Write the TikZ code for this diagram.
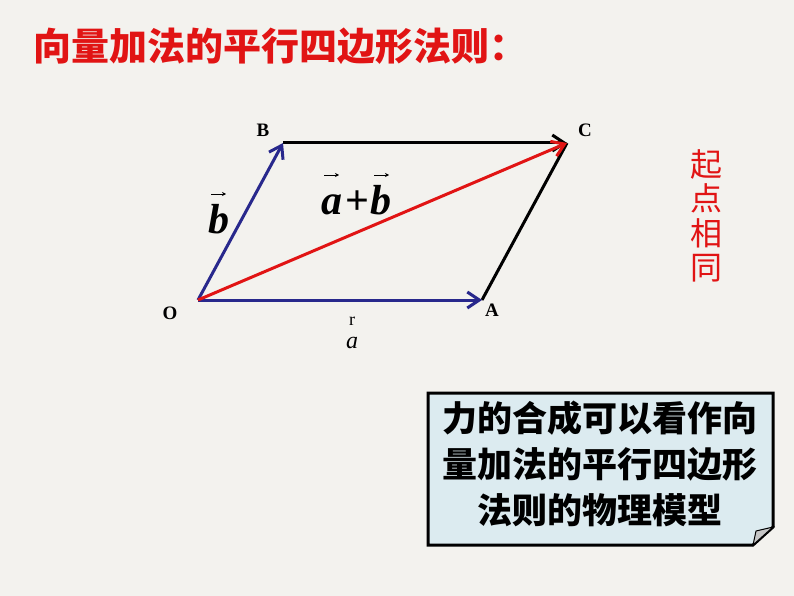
\documentclass[tikz,border=0pt]{standalone}
\usepackage{fontspec}
\setmainfont{Liberation Serif}
\newfontfamily\cjk{Noto Sans CJK SC}
\usetikzlibrary{arrows.meta}
\definecolor{bgcol}{RGB}{243,242,238}
\definecolor{vecblue}{RGB}{40,40,140}
\definecolor{vecred}{RGB}{225,20,20}
\definecolor{notefill}{RGB}{220,235,240}
\tikzset{
  vec/.style={line width=3pt, -{Straight Barb[length=12pt,width=16pt]}},
  vertex/.style={font=\fontsize{19}{19}\selectfont\bfseries, inner sep=0pt},
  letter/.style={font=\fontsize{42}{42}\selectfont\bfseries\itshape, inner sep=0pt, anchor=base},
  overarrow/.style={line width=1pt, -{Stealth[length=4pt,width=4pt]}},
}
\begin{document}
\begin{tikzpicture}[x=1pt,y=-1pt]
\useasboundingbox (0,0) rectangle (794,596);
\fill[bgcol] (0,0) rectangle (794,596);

% Title
\node[anchor=west, text=vecred, font=\cjk\bfseries\fontsize{38}{40}\selectfont, inner sep=0pt] (title) at (33,46) {向量加法的平行四边形法则：};

% Parallelogram corners
\coordinate (O) at (198,300);
\coordinate (A) at (482,300);
\coordinate (B) at (283,143);
\coordinate (C) at (567,143);

% Sides and diagonal
\draw[line width=3pt] (A) -- (C);
\draw[vec, black] (B) -- (C);
\draw[vec, vecblue] (O) -- (A);
\draw[vec, vecblue] (O) -- (B);
\draw[vec, vecred] (O) -- (C);

% Corner labels
\node[vertex] (lO) at (170,313) {O};
\node[vertex] (lA) at (492,310) {A};
\node[vertex] (lB) at (263,130) {B};
\node[vertex] (lC) at (585,130) {C};

% Vector labels
\node[letter] (lb) at (219,233) {b};
\draw[overarrow] (211,194) -- (226,194);
\node[letter] (sa) at (332,214) {a};
\node[letter, font=\fontsize{42}{42}\selectfont\bfseries] (plus) at (357,214) {+};
\node[letter] (sb) at (381,214) {b};
\draw[overarrow] (324,175) -- (339,175);
\draw[overarrow] (374,175) -- (389,175);
\node[inner sep=0pt, anchor=base, font=\fontsize{18}{18}\selectfont] (lr) at (352,325) {r};
\node[inner sep=0pt, anchor=base, font=\fontsize{24}{24}\selectfont\itshape] (la) at (352,348) {a};

% Side note
\node[text=vecred, font=\cjk\fontsize{32}{34.5}\selectfont, align=center, inner sep=0pt] (side) at (706,216) {起\\点\\相\\同};

% Note box with folded corner
\draw[line width=3pt, fill=notefill] (428,393) -- (773,393) -- (773,527) -- (753,545) -- (428,545) -- cycle;
\draw[line width=1pt, fill=gray!45] (773,527) -- (756,531) -- (753,545) -- cycle;
\node[font=\cjk\bfseries\fontsize{35}{46}\selectfont, align=center, inner sep=0pt] (note) at (600,464) {力的合成可以看作向\\量加法的平行四边形\\法则的物理模型};
\end{tikzpicture}
\end{document}
